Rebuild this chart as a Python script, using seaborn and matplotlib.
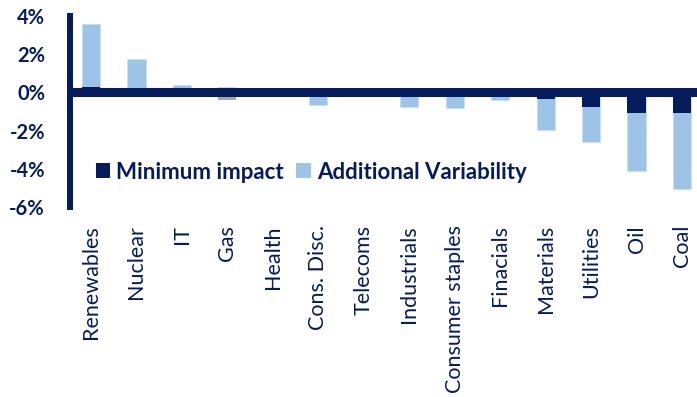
import matplotlib
matplotlib.use("Agg")
import matplotlib.pyplot as plt
from matplotlib.patches import Patch
import seaborn as sns
import pandas as pd

sectors = ["Renewables", "Nuclear", "IT", "Gas", "Health", "Cons. Disc.", "Telecoms",
           "Industrials", "Consumer staples", "Finacials", "Materials", "Utilities",
           "Oil", "Coal"]
# values in %
minimum_impact = [0.30, 0.0, 0.0, 0.0, 0.0, 0.0, 0.0,
                  0.0, 0.0, -0.22, -0.35, -0.75, -1.06, -1.06]
additional_variability = [3.26, 1.75, 0.37, 0.28, 0.10, -0.66, -0.03,
                          -0.75, -0.80, -0.18, -1.62, -1.83, -3.07, -3.98]
gas_downside = [0.0, 0.0, 0.0, -0.38, 0.0, 0.0, 0.0,
                0.0, 0.0, 0.0, 0.0, 0.0, 0.0, 0.0]
yticks = [4, 2, 0, -2, -4, -6]

NAVY = "#041c5c"
LIGHT = "#9dc3e6"
GREY = "#a6a6a6"

df = pd.DataFrame({
    "sector": sectors,
    "minimum": minimum_impact,
    "additional": additional_variability,
    "gas": gas_downside,
})
df["total"] = df["minimum"] + df["additional"]

sns.set_style("white")
plt.rcParams["font.family"] = ["Lato", "DejaVu Sans"]

fig = plt.figure(figsize=(6.97, 3.97), dpi=100)
ax = fig.add_axes([70 / 697, 1 - 207 / 397, (697 - 70) / 697, (207 - 16) / 397])

# stacked look: full bar in light blue, minimum impact drawn over it
sns.barplot(data=df, x="sector", y="total", color=LIGHT, width=0.4, saturation=1,
            edgecolor="#c9def2", linewidth=0.6, ax=ax, zorder=2)
sns.barplot(data=df, x="sector", y="gas", color=GREY, width=0.4, saturation=1,
            linewidth=0, ax=ax, zorder=2)
sns.barplot(data=df, x="sector", y="minimum", color=NAVY, width=0.4, saturation=1,
            linewidth=0, ax=ax, zorder=2.5)

ax.axhline(0, color=NAVY, lw=6.5, zorder=3)

ax.set_xlim(-0.462, 13.33)
ax.set_ylim(-6, 4)
ax.set_yticks(yticks)
ax.set_yticklabels([f"{v}%" for v in yticks], fontsize=14.5, fontweight="bold", color=NAVY)
ax.tick_params(axis="y", length=0, pad=18)
ax.tick_params(axis="x", length=0, pad=13)
ax.set_xticks(range(len(sectors)))
ax.set_xticklabels(sectors, rotation=90, fontsize=15.5, color=NAVY, va="top", ha="center")
ax.set_xlabel("")
ax.set_ylabel("")

for side in ["top", "right", "bottom"]:
    ax.spines[side].set_visible(False)
ax.spines["left"].set_color(NAVY)
ax.spines["left"].set_linewidth(4.3)
ax.spines["left"].set_zorder(4)

handles = [Patch(facecolor=NAVY, edgecolor="none", label="Minimum impact"),
           Patch(facecolor=LIGHT, edgecolor="none", label="Additional Variability")]
leg = ax.legend(handles=handles, ncol=2, frameon=False, loc="center left",
                bbox_to_anchor=(0.027, 0.183), borderaxespad=0, borderpad=0.4,
                handlelength=0.65, handleheight=0.65,
                handletextpad=0.28, columnspacing=0.55,
                prop={"family": ["Lato", "DejaVu Sans"], "weight": "bold", "size": 16})
for t in leg.get_texts():
    t.set_color(NAVY)

fig.savefig("out.png", dpi=100)
